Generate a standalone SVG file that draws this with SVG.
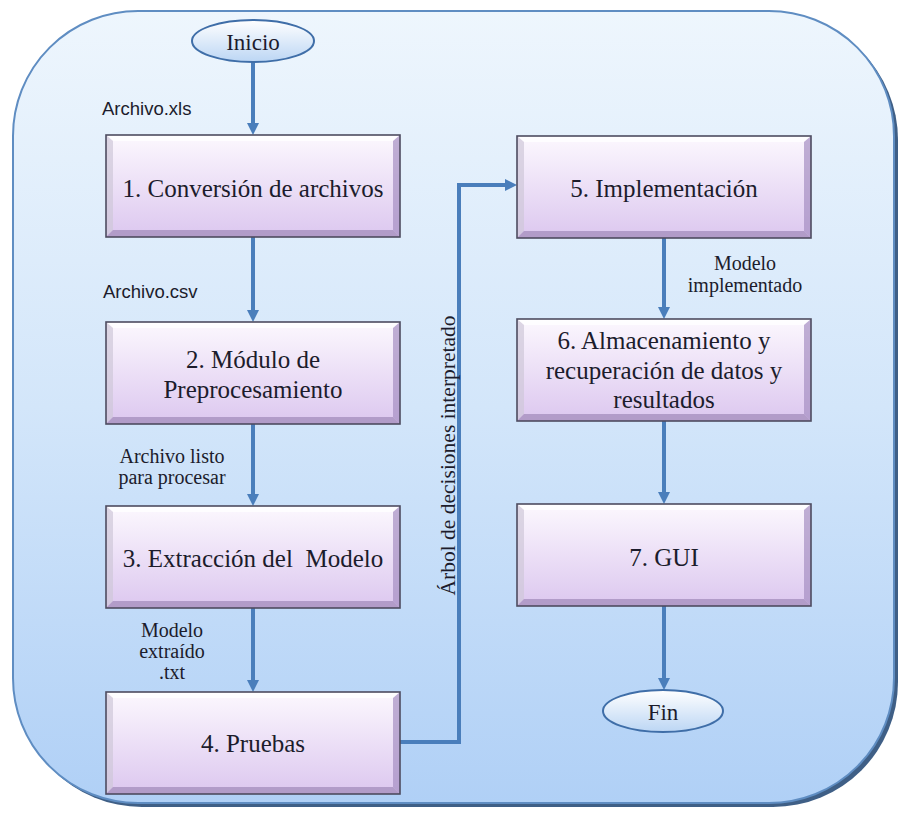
<svg xmlns="http://www.w3.org/2000/svg" xmlns:xlink="http://www.w3.org/1999/xlink" width="902" height="817" viewBox="0 0 902 817">
<defs>
<linearGradient id="bgGrad" x1="0" y1="0" x2="0" y2="1">
<stop offset="0" stop-color="#eef6fd"/>
<stop offset="0.5" stop-color="#d3e6fa"/>
<stop offset="1" stop-color="#b0d0f6"/>
</linearGradient>
<linearGradient id="boxGrad" x1="0" y1="0" x2="0" y2="1">
<stop offset="0" stop-color="#fcf8fe"/>
<stop offset="1" stop-color="#dcc7ef"/>
</linearGradient>
<linearGradient id="ellGrad" x1="0" y1="0" x2="0" y2="1">
<stop offset="0" stop-color="#ffffff"/>
<stop offset="1" stop-color="#bcd6f4"/>
</linearGradient>
<marker id="arr" markerUnits="userSpaceOnUse" markerWidth="12" markerHeight="12" refX="2" refY="6" orient="auto">
<path d="M0,0 L12,6 L0,12 z" fill="#4a7ebb"/>
</marker>
<g id="boxShape">
<rect x="0" y="0" width="294" height="102" fill="url(#boxGrad)"/>
<polygon points="0,0 294,0 287,6 7,6" fill="#ffffff" opacity="0.8"/>
<polygon points="0,0 0,102 7,95 7,6" fill="#cfc8d8" opacity="0.7"/>
<polygon points="294,0 294,102 287,95 287,6" fill="#a58ec2" opacity="0.7"/>
<polygon points="0,102 294,102 287,95 7,95" fill="#9f89b8" opacity="0.7"/>
<rect x="0" y="0" width="294" height="102" fill="none" stroke="#4e4c60" stroke-width="1.6"/>
</g>
</defs>
<style>
.t{font-family:"Liberation Serif","DejaVu Serif",serif;fill:#1c1c2c;text-anchor:middle}
.bt{font-size:25px}
.lb{font-size:20px}
.sl{font-family:"Liberation Sans","DejaVu Sans",sans-serif;fill:#1c1c2c;font-size:18.5px}
.cn{fill:none;stroke:#4a7ebb;stroke-width:4}
.el{fill:url(#ellGrad);stroke:#3f6ea8;stroke-width:2}
</style>

<g id="background">
<rect x="17" y="15" width="881" height="792" rx="125" ry="125" fill="#3f5f86"/>
<rect x="13" y="11" width="881" height="792" rx="125" ry="125" fill="url(#bgGrad)" stroke="#5f8dc2" stroke-width="2"/>
</g>

<g id="connectors">
<line class="cn" x1="253" y1="62" x2="253" y2="125" marker-end="url(#arr)"/>
<line class="cn" x1="253" y1="237" x2="253" y2="312" marker-end="url(#arr)"/>
<line class="cn" x1="253" y1="424" x2="253" y2="496" marker-end="url(#arr)"/>
<line class="cn" x1="253" y1="608" x2="253" y2="682" marker-end="url(#arr)"/>
<path class="cn" d="M400,742 H459 V185 H507" marker-end="url(#arr)"/>
<line class="cn" x1="664" y1="238" x2="664" y2="309" marker-end="url(#arr)"/>
<line class="cn" x1="664" y1="421" x2="664" y2="494" marker-end="url(#arr)"/>
<line class="cn" x1="664" y1="606" x2="664" y2="680" marker-end="url(#arr)"/>
</g>

<g id="labels">
<text class="sl" x="102" y="115">Archivo.xls</text>
<text class="sl" x="103" y="298">Archivo.csv</text>
<text class="t lb" x="172" y="463">Archivo listo</text>
<text class="t lb" x="172" y="484">para procesar</text>
<text class="t lb" x="172" y="637">Modelo</text>
<text class="t lb" x="172" y="658">extraído</text>
<text class="t lb" x="172" y="679">.txt</text>
<text class="t lb" x="745" y="270">Modelo</text>
<text class="t lb" x="745" y="292">implementado</text>
<text class="t" font-size="21.5" x="0" y="0" transform="translate(455,455.5) rotate(-90)">Árbol de decisiones interpretado</text>
</g>

<g id="inicio">
<ellipse class="el" cx="253" cy="41" rx="61" ry="21"/>
<text class="t" font-size="23" x="253" y="50">Inicio</text>
</g>

<g id="box1">
<use href="#boxShape" x="106" y="135"/>
<text class="t bt" x="253" y="197">1. Conversión de archivos</text>
</g>

<g id="box2">
<use href="#boxShape" x="106" y="322"/>
<text class="t bt" x="253" y="368">2. Módulo de</text>
<text class="t bt" x="253" y="398">Preprocesamiento</text>
</g>

<g id="box3">
<use href="#boxShape" x="106" y="506"/>
<text class="t bt" x="253" y="567" xml:space="preserve">3. Extracción del  Modelo</text>
</g>

<g id="box4">
<use href="#boxShape" x="106" y="692"/>
<text class="t bt" x="253" y="752">4. Pruebas</text>
</g>

<g id="box5">
<use href="#boxShape" x="517" y="136"/>
<text class="t bt" x="664" y="197">5. Implementación</text>
</g>

<g id="box6">
<use href="#boxShape" x="517" y="319"/>
<text class="t bt" x="664" y="349">6. Almacenamiento y</text>
<text class="t bt" x="664" y="379">recuperación de datos y</text>
<text class="t bt" x="664" y="408">resultados</text>
</g>

<g id="box7">
<use href="#boxShape" x="517" y="504"/>
<text class="t bt" x="664" y="566">7. GUI</text>
</g>

<g id="fin">
<ellipse class="el" cx="663" cy="711" rx="60" ry="21"/>
<text class="t" font-size="23" x="663" y="720">Fin</text>
</g>
</svg>
